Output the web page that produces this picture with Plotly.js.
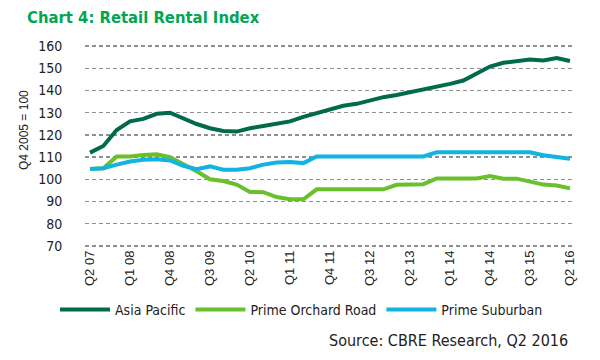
<!DOCTYPE html>
<html>
<head>
<meta charset="utf-8">
<script src="https://cdn.plot.ly/plotly-3.0.1.min.js"></script>
<style>html,body{margin:0;padding:0;background:#fff;}#chart{width:600px;height:360px;}</style>
</head>
<body>
<div id="chart"></div>
<script>
const quarters = ["Q2 07","Q3 07","Q4 07","Q1 08","Q2 08","Q3 08","Q4 08","Q1 09","Q2 09","Q3 09","Q4 09","Q1 10","Q2 10","Q3 10","Q4 10","Q1 11","Q2 11","Q3 11","Q4 11","Q1 12","Q2 12","Q3 12","Q4 12","Q1 13","Q2 13","Q3 13","Q4 13","Q1 14","Q2 14","Q3 14","Q4 14","Q1 15","Q2 15","Q3 15","Q4 15","Q1 16","Q2 16"];
const tickLabels = ["Q2 07","Q1 08","Q4 08","Q3 09","Q2 10","Q1 11","Q4 11","Q3 12","Q2 13","Q1 14","Q4 14","Q3 15","Q2 16"];
const seriesNames = ["Asia Pacific","Prime Orchard Road","Prime Suburban"];
const asiaPacific = [112,115,122.2,126.1,127.2,129.5,130,127.6,124.9,123,121.8,121.5,123,124,125.2,126.1,128.1,129.9,131.6,133.1,134,135.5,137,138,139.2,140.2,141.5,143,144.5,147.5,150.8,152.5,153.3,154,153.5,154.6,153.3];
const primeOrchard = [104.6,105,110.3,110.3,111,111.3,110,107,103.6,100,99.2,97.6,94.3,94.2,92,91,91,95.5,95.5,95.5,95.5,95.5,95.5,97.5,97.5,97.8,100.4,100.4,100.4,100.4,101.5,100.3,100.3,98.8,97.6,97.2,95.9];
const primeSuburban = [104.6,105,106.6,108,108.8,109,108.5,106.1,104.6,105.8,104.3,104.3,105,106.6,107.6,107.8,107.3,110.3,110.3,110.3,110.3,110.3,110.3,110.3,110.3,110.3,112.2,112.2,112.2,112.2,112.2,112.2,112.2,112.2,110.8,110,109.3];
const yTicks = [70,80,90,100,110,120,130,140,150,160];

const colors = ["#006a4d","#6abf2c","#12b3e0"];
const values = [asiaPacific, primeOrchard, primeSuburban];
const traces = values.map((v,k)=>({
  type:"scatter", mode:"lines", x:quarters, y:v, name:seriesNames[k],
  line:{color:colors[k], width:4, shape:"linear"}, hoverinfo:"skip"
}));

const layout = {
  width:600, height:360,
  margin:{l:85, r:25, t:45, b:113},
  paper_bgcolor:"#fff", plot_bgcolor:"#fff",
  title:{text:"<b>Chart 4: Retail Rental Index</b>", x:27/600, xanchor:"left", xref:"container", y:1-17/360, yref:"container", yanchor:"middle",
         font:{family:"DejaVu Sans Condensed, sans-serif", size:16.5, color:"#00a651"}},
  xaxis:{type:"category", range:[-0.375,36.375], tickmode:"array", tickvals:tickLabels, ticktext:tickLabels,
         tickangle:-90, showgrid:false, zeroline:false, showline:false, ticks:"",
         tickfont:{family:"Liberation Sans, Arial, sans-serif", size:13, color:"#222"}, fixedrange:true},
  yaxis:{range:[69.5,160.5], tickmode:"array", tickvals:yTicks, showgrid:true, gridcolor:"#8f8f8f", griddash:"4px,3px", gridwidth:1.5,
         zeroline:false, showline:false, ticks:"outside", ticklen:19, tickcolor:"rgba(0,0,0,0)",
         tickfont:{family:"DejaVu Sans Condensed, sans-serif", size:14, color:"#222"}, fixedrange:true},
  showlegend:true,
  legend:{orientation:"h", xref:"container", yref:"container", x:55/600, xanchor:"left", y:1-310/360, yanchor:"middle",
          font:{family:"DejaVu Sans Condensed, sans-serif", size:14, color:"#222"}, itemwidth:50, bgcolor:"rgba(0,0,0,0)"},
  annotations:[
    {text:"Source: CBRE Research, Q2 2016", xref:"paper", yref:"paper", x:(570-85)/490, xanchor:"right", y:(247-340)/202, yanchor:"middle",
     showarrow:false, font:{family:"DejaVu Sans Condensed, sans-serif", size:16, color:"#222"}},
    {text:"Q4 2005 = 100", textangle:-90, xref:"paper", yref:"paper", x:(24-85)/490, xanchor:"center", y:(247-130)/202, yanchor:"middle",
     showarrow:false, font:{family:"Liberation Sans, Arial, sans-serif", size:12, color:"#222"}}
  ]
};
Plotly.newPlot("chart", traces, layout, {displayModeBar:false, staticPlot:true});
</script>
</body>
</html>
